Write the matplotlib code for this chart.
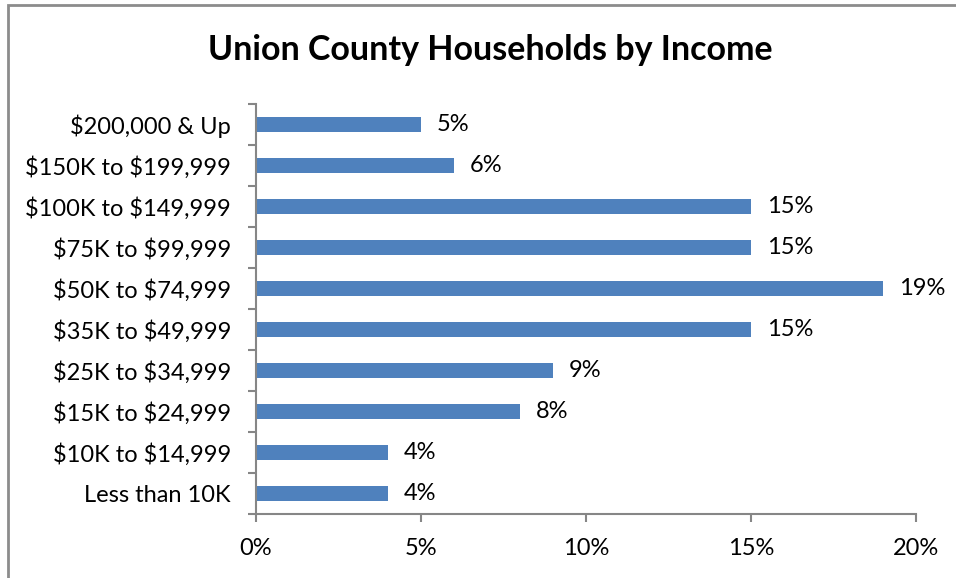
import matplotlib.pyplot as plt
import numpy as np
from matplotlib.patches import Rectangle
from matplotlib.ticker import FuncFormatter, FixedLocator

# household income brackets, top to bottom as shown
brackets = ['$200,000 & Up', '$150K to $199,999', '$100K to $149,999',
            '$75K to $99,999', '$50K to $74,999', '$35K to $49,999',
            '$25K to $34,999', '$15K to $24,999', '$10K to $14,999',
            'Less than 10K']
share = [5, 6, 15, 15, 19, 15, 9, 8, 4, 4]
xticks = [0, 5, 10, 15, 20]

plt.rcParams['font.family'] = ['Lato', 'DejaVu Sans']
plt.rcParams['text.parse_math'] = False
axis_col = '#868686'
bar_col = '#4F81BD'

fig = plt.figure(figsize=(9.56, 5.78), dpi=100)
ax = fig.add_axes([256/956, 1-514/578, 660/956, 410/578])

n = len(brackets)
ypos = np.arange(n)[::-1]
ax.barh(ypos, share, height=0.39, color=bar_col, zorder=2)
for y, v in zip(ypos, share):
    ax.text(v + 0.48, y, '%d%%' % v, va='center', ha='left', fontsize=17)

ax.set_xlim(0, 20)
ax.set_ylim(-0.5, n - 0.5)
ax.set_xticks(xticks)
ax.xaxis.set_major_formatter(FuncFormatter(lambda v, p: '%d%%' % v))
ax.set_yticks(ypos)
ax.set_yticklabels(brackets)
ax.yaxis.set_minor_locator(FixedLocator(np.arange(-0.5, n, 1.0)))

for s in ['top', 'right']:
    ax.spines[s].set_visible(False)
for s in ['left', 'bottom']:
    ax.spines[s].set_color(axis_col)
    ax.spines[s].set_linewidth(1.5)

ax.tick_params(axis='y', which='major', length=0, pad=18, labelsize=17)
ax.tick_params(axis='y', which='minor', length=6, width=1.5, color=axis_col)
ax.tick_params(axis='x', length=6, width=1.5, color=axis_col, pad=11,
               labelsize=17)

fig.text(490/956, 1-50/578, 'Union County Households by Income',
         ha='center', va='center', fontsize=24.5, fontweight='bold')

# outer chart frame, cut off at right and bottom
fig.patches.append(Rectangle((8/956, -0.1), 1.2, 1-5/578+0.1,
                             transform=fig.transFigure, fill=False,
                             edgecolor='#8c8c8c', linewidth=2))

fig.savefig('out.png', dpi=100)
